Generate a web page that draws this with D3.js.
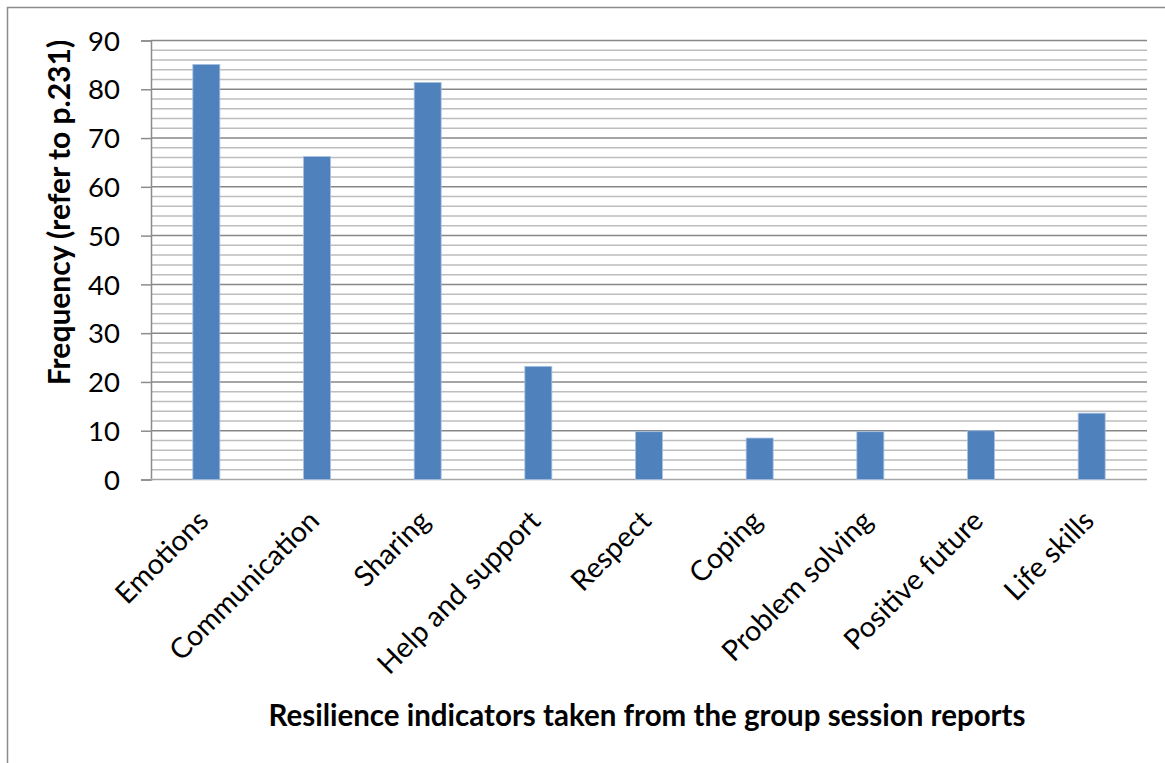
<!DOCTYPE html>
<html><head><meta charset="utf-8">
<script src="https://cdn.jsdelivr.net/npm/d3@7"></script>
<style>body{margin:0;background:#fff}svg{display:block}</style>
</head><body>
<script>
const categories = ["Emotions","Communication","Sharing","Help and support","Respect","Coping","Problem solving","Positive future","Life skills"];
const values = [85.1, 66.2, 81.4, 23.2, 9.8, 8.5, 9.8, 10.0, 13.6];
const majorTicks = [0,10,20,30,40,50,60,70,80,90];
const minorTicks = d3.range(0, 91, 2);
const yTitle = "Frequency (refer to p.231)";
const xTitle = "Resilience indicators taken from the group session reports";

const W = 1165, H = 763;
const svg = d3.select("body").append("svg").attr("width", W).attr("height", H);
const font = "Lato, 'Open Sans', sans-serif";

svg.append("rect").attr("x", 7.5).attr("y", 7.5).attr("width", W + 10).attr("height", H + 10)
  .attr("fill", "none").attr("stroke", "#8c8c8c").attr("stroke-width", 1.5);

const pLeft = 151, pRight = 1147, pTop = 40.5, pBottom = 479.5;
const x = d3.scaleBand().domain(categories).range([pLeft, pRight]).paddingInner(0.756).paddingOuter(0.378);
const y = d3.scaleLinear().domain([0, 90]).range([pBottom, pTop]);

const g = svg.append("g");
// minor grid
g.selectAll("line.minor").data(minorTicks.filter(v => v % 10 !== 0)).join("line")
  .attr("class", "minor")
  .attr("x1", pLeft).attr("x2", pRight).attr("y1", d => y(d)).attr("y2", d => y(d))
  .attr("stroke", "#bdbdbd").attr("stroke-width", 1.5);
// major grid
g.selectAll("line.major").data(majorTicks.filter(v => v !== 0)).join("line")
  .attr("class", "major")
  .attr("x1", pLeft).attr("x2", pRight).attr("y1", d => y(d)).attr("y2", d => y(d))
  .attr("stroke", "#878787").attr("stroke-width", 1.5);

// y axis
const yAxis = d3.axisLeft(y).tickValues(majorTicks).tickSize(10).tickPadding(21);
const ya = svg.append("g").attr("transform", `translate(${pLeft},0)`).call(yAxis);
ya.select(".domain").attr("stroke", "#8c8c8c").attr("stroke-width", 1.5);
ya.selectAll(".tick line").attr("stroke", "#8c8c8c").attr("stroke-width", 1.5);
ya.selectAll(".tick text").attr("font-family", font).attr("font-size", 27.5).attr("fill", "#000").attr("dy", "0.35em");

// x axis line
svg.append("line").attr("x1", pLeft).attr("x2", pRight).attr("y1", pBottom).attr("y2", pBottom)
  .attr("stroke", "#a6a6a6").attr("stroke-width", 1.5);

// bars
svg.selectAll("rect.bar").data(categories).join("rect")
  .attr("class", "bar")
  .attr("x", d => x(d)).attr("width", x.bandwidth())
  .attr("y", (d, i) => y(values[i])).attr("height", (d, i) => y(0) - y(values[i]))
  .attr("fill", "#4f81bd").attr("stroke", "#a9c1e0").attr("stroke-width", 0.8);

// category labels
const xAxis = d3.axisBottom(x).tickSize(0).tickPadding(0);
const xa = svg.append("g").attr("transform", `translate(0,${pBottom})`).call(xAxis);
xa.select(".domain").remove();
xa.selectAll(".tick text")
  .attr("font-family", font).attr("font-size", 28.5).attr("fill", "#000")
  .attr("text-anchor", "end").attr("dy", 0).attr("y", 0)
  .attr("transform", "translate(4,43) rotate(-45)");

// titles
svg.append("text").attr("transform", `translate(70,212.5) rotate(-90)`)
  .attr("text-anchor", "middle").attr("font-family", font).attr("font-weight", "bold")
  .attr("font-size", 30).text(yTitle);
svg.append("text").attr("x", 647).attr("y", 726).attr("text-anchor", "middle")
  .attr("font-family", font).attr("font-weight", "bold").attr("font-size", 29.5).text(xTitle);
</script>
</body></html>
